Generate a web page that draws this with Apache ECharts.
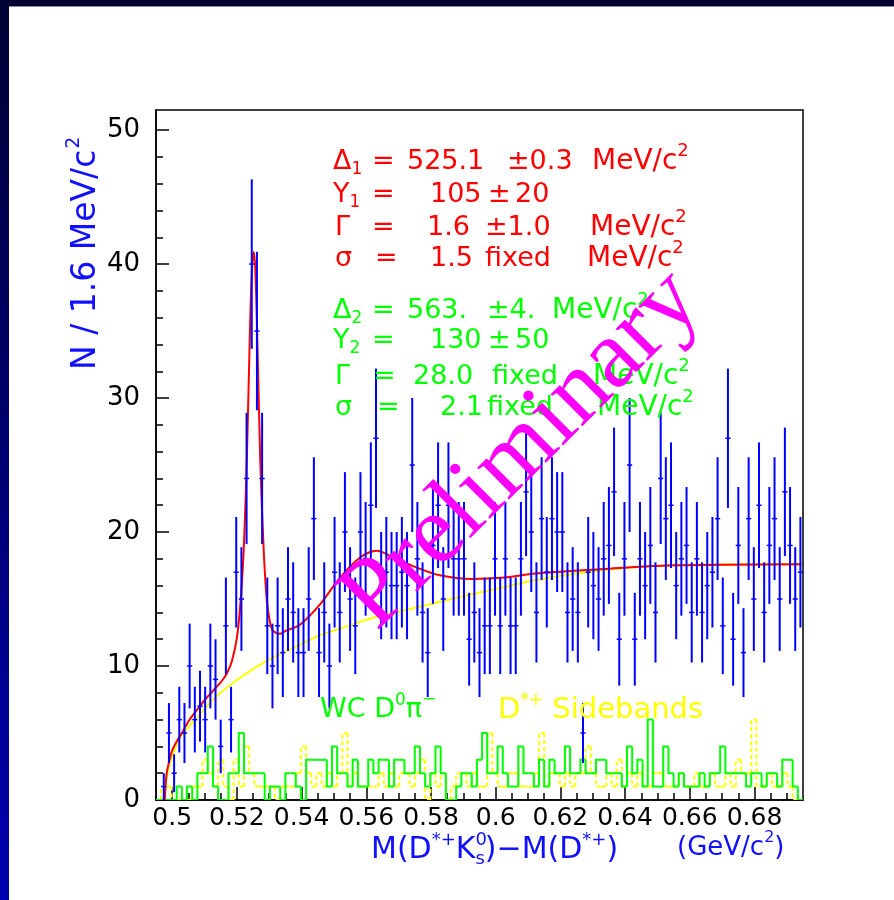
<!DOCTYPE html>
<html><head><meta charset="utf-8">
<script src="https://cdn.jsdelivr.net/npm/echarts@6/dist/echarts.min.js"></script>
<style>html,body{margin:0;padding:0;background:#fff;}#c{width:894px;height:900px;}</style>
</head><body><div id="c"></div>
<script>
// ---- data ----
const binLow = 0.495;
const binWidth = 0.0016;
const xMax = 0.695;
const dataCounts = [0,1,5,2,6,5,10,6,7,6,10,9,4,13,6,17,15,24,40,35,
  24,13,10,13,11,15,14,11,11,15,21,11,14,10,17,14,20,15,13,20,
  18,22,27,16,17,16,16,17,16,25,18,14,11,19,22,15,22,18,18,18,
  12,14,11,13,13,18,13,18,13,13,18,23,20,14,21,17,21,20,20,14,
  15,14,5,17,16,15,18,19,23,12,18,25,12,18,16,19,14,24,21,22,
  16,18,19,14,18,14,16,17,21,13,27,12,19,11,21,15,22,14,19,21,
  15,23,19,15,17];
const wcCounts = [0,0,0,0,1,0,1,0,2,2,4,1,0,0,2,2,5,2,2,2,
  2,0,1,1,0,2,2,1,0,3,3,3,3,1,4,2,2,1,3,1,
  1,3,2,3,3,1,3,3,2,2,4,2,1,2,4,2,0,0,1,2,
  2,1,3,5,2,2,4,2,1,1,4,2,2,1,3,1,3,2,2,4,
  2,2,3,2,2,3,3,2,2,2,1,4,2,3,1,6,1,1,4,2,
  1,2,1,1,1,2,1,2,2,4,2,2,2,2,1,2,2,1,2,2,
  1,3,3,1,0];
const sbCounts = [0,1,1,0,0,0,0,1,1,3,2,1,3,1,0,3,1,4,2,1,
  1,1,1,0,1,1,1,2,4,2,1,2,1,2,1,2,5,1,2,1,
  1,1,1,2,1,2,1,2,2,1,2,3,0,2,1,2,0,1,2,2,
  1,2,1,1,5,2,1,1,2,2,1,1,1,2,5,1,2,2,1,2,
  1,2,2,4,2,1,1,2,1,3,1,2,1,2,1,1,2,2,1,1,
  1,2,1,1,2,1,1,2,1,1,2,1,3,2,2,6,1,1,2,1,
  1,2,1,0,0];
const fitCurve = [[0.4977,0],[0.4982,1.8],[0.4989,2.7],[0.5000,3.7],[0.5010,4.2],[0.5030,5.0],
  [0.5051,5.9],[0.5076,6.7],[0.5102,7.5],[0.5128,8.2],[0.5154,8.9],[0.5170,9.5],[0.5185,10.4],
  [0.5200,12.1],[0.5210,14.4],[0.5221,18.6],[0.5231,25.6],[0.5241,35.6],[0.5247,39.8],
  [0.5252,40.9],[0.5257,39.6],[0.5262,35.6],[0.5272,25.6],[0.5283,18.6],[0.5293,14.8],
  [0.5303,13.2],[0.5313,12.6],[0.5334,12.4],[0.5349,12.6],[0.5396,13.1],[0.5457,14.6],
  [0.5519,16.6],[0.5581,18.1],[0.5632,18.6],[0.5684,18.1],[0.5761,17.3],[0.5823,16.8],
  [0.5926,16.5],[0.6028,16.6],[0.6121,16.9],[0.6311,17.2],[0.6528,17.5],[0.6945,17.6]];
const bkgCurve = [[0.4977,0],[0.4982,1.5],[0.4995,2.9],[0.5026,4.7],[0.5087,6.4],[0.5118,7.3],
  [0.5180,8.6],[0.5272,10.1],[0.5334,10.9],[0.5396,11.6],[0.5457,12.3],[0.5520,12.8],
  [0.5621,13.6],[0.5725,14.2],[0.5880,15.1],[0.6030,15.9],[0.6121,16.4],[0.6311,17.1],
  [0.6528,17.5],[0.6945,17.6]];
const xTickLabels = [0.5,0.52,0.54,0.56,0.58,0.6,0.62,0.64,0.66,0.68];
const xMinorTicks = [0.5,0.505,0.51,0.515,0.52,0.525,0.53,0.535,0.54,0.545,0.55,0.555,0.56,0.565,0.57,0.575,0.58,0.585,0.59,0.595,0.6,0.605,0.61,0.615,0.62,0.625,0.63,0.635,0.64,0.645,0.65,0.655,0.66,0.665,0.67,0.675,0.68,0.685,0.69];
const yTickLabels = [0,10,20,30,40,50];
const yMinorTicks = [0,2,4,6,8,10,12,14,16,18,20,22,24,26,28,30,32,34,36,38,40,42,44,46,48,50];

// ---- chart ----
const chart = echarts.init(document.getElementById('c'), null, {renderer:'canvas'});
const FONT = 'DejaVu Sans';
const centers = dataCounts.map((n,k)=>[binLow+(k+0.5)*binWidth, n]);
const mctx = document.createElement('canvas').getContext('2d');
function W(s,size,fam){ mctx.font = size+'px "'+(fam||FONT)+'"'; return mctx.measureText(s).width; }

function histSeries(counts, color, dash){
  return {
    type:'custom', xAxisIndex:0, yAxisIndex:0, clip:true, z:3,
    data: counts.map((n,k)=>[binLow+(k+0.5)*binWidth, n, k>0?counts[k-1]:0]),
    renderItem(params, api){
      const xc = api.value(0), v = api.value(1), pv = api.value(2);
      const p0 = api.coord([xc-binWidth/2, pv]);
      const p1 = api.coord([xc-binWidth/2, v]);
      const p2 = api.coord([xc+binWidth/2, v]);
      return {type:'polyline', shape:{points:[p0,p1,p2]},
        style:{stroke:color, lineWidth:2, fill:null, lineDash:dash||null}};
    }
  };
}

const texts = [];
function T(x,y,s,size,color,extra){
  texts.push(Object.assign({type:'text', x:x, y:y, z:50,
    style:{text:s, fill:color, font:size+'px "'+FONT+'"', verticalAlign:'middle', align:'left'}}, extra||{}));
}
function seq(x,y,color,parts){
  let cx = x;
  for (const p of parts){
    const [s,size,dy,adv] = p;
    T(cx, y+(dy||0), s, size, color);
    cx += (adv!==undefined) ? adv : W(s,size);
  }
  return cx;
}
function mev(x,y,color){ seq(x,y,color,[['MeV/c',28],['2',18,-11]]); }
function sym(x,y,color,s,sub){ seq(x,y,color,[[s,27],[sub,17,8]]); }
const R='#ff0000', G='#00ff00', Yc='#ffff00';
// red block
sym(333,162,R,'\u0394','1'); T(372,162,'=',27,R); T(407,162,'525.1',27,R); T(507,162,'\u00b10.3',27,R); mev(592,162,R);
sym(333,195,R,'Y','1'); T(372,195,'=',27,R); T(430,195,'105',27,R); T(488,195,'\u00b1',27,R); T(515,195,'20',27,R);
T(335,228,'\u0393',27,R); T(372,228,'=',27,R); T(427,228,'1.6',27,R); T(485,228,'\u00b11.0',27,R); mev(590,228,R);
T(335,259,'\u03c3',27,R); T(375,259,'=',27,R); T(430,259,'1.5',27,R); T(485,259,'fixed',27,R); mev(587,259,R);
// green block
sym(333,311,G,'\u0394','2'); T(372,311,'=',27,G); T(407,311,'563.',27,G); T(487,311,'\u00b14.',27,G); mev(552,311,G);
sym(333,341,G,'Y','2'); T(372,341,'=',27,G); T(430,341,'130',27,G); T(488,341,'\u00b1',27,G); T(515,341,'50',27,G);
T(335,377,'\u0393',27,G); T(373,377,'=',27,G); T(413,377,'28.0',27,G); T(492,377,'fixed',27,G); mev(593,377,G);
T(335,408,'\u03c3',27,G); T(377,408,'=',27,G); T(440,408,'2.1',27,G); T(487,408,'fixed',27,G); mev(597,408,G);
// legend texts
seq(320,710,G,[['WC D',27],['0',17,-9],['\u03c0',27],['\u2212',17,-10]]);
seq(498,710,Yc,[['D',29],['*+',17,-9],[' Sidebands',29]]);
// x title
const B='#1010ff';
seq(371,850,B,[['M(D',30],['*+',18,-10],['K',30],['0',18,-10,0],['s',18,9],[')\u2212M(D',30],['*+',18,-10],[')',30]]);
seq(677,848,B,[['(GeV/c',26],['2',16,-10],[')',26]]);
// y title (rotated, reading bottom to top)
(function(){
  const s='N / 1.6 MeV/c', fs=33, w=W(s,fs), w2=W('2',19);
  const yb=370, xc=86;
  texts.push({type:'text', x:xc, y:yb-w/2, z:50, rotation:Math.PI/2,
    style:{text:s, fill:B, font:fs+'px "'+FONT+'"', align:'center', verticalAlign:'middle'}});
  texts.push({type:'text', x:xc-12, y:yb-w-w2/2-1, z:50, rotation:Math.PI/2,
    style:{text:'2', fill:B, font:'19px "'+FONT+'"', align:'center', verticalAlign:'middle'}});
})();
// Preliminary
texts.push({type:'text', x:522, y:450, z:60, rotation:Math.PI/4,
  style:{text:'Preliminary', fill:'#ff00ff', font:'98px "Liberation Serif"', align:'center', verticalAlign:'middle'}});

const option = {
  backgroundColor:'#ffffff',
  animation:false,
  grid:{left:156, right:91, top:110, bottom:100, show:true, borderColor:'#000', borderWidth:1.5, backgroundColor:'#fff'},
  xAxis:[
    {type:'value', min:binLow, max:xMax, position:'bottom',
     axisLine:{show:true, onZero:false, lineStyle:{color:'#000', width:1.5}},
     axisTick:{show:true, inside:true, length:13, customValues:xTickLabels, lineStyle:{color:'#000', width:1.5}},
     axisLabel:{show:true, customValues:xTickLabels, margin:6, color:'#000', fontFamily:FONT, fontSize:25,
       formatter:v=>String(+v.toFixed(2))},
     splitLine:{show:false}},
    {type:'value', min:binLow, max:xMax, position:'bottom', gridIndex:0,
     axisLine:{show:false},
     axisTick:{show:true, inside:true, length:7, customValues:xMinorTicks, lineStyle:{color:'#000', width:1.5}},
     axisLabel:{show:false}, splitLine:{show:false}}
  ],
  yAxis:[
    {type:'value', min:0, max:51.5, position:'left',
     axisLine:{show:true, onZero:false, lineStyle:{color:'#000', width:1.5}},
     axisTick:{show:true, inside:true, length:13, customValues:yTickLabels, lineStyle:{color:'#000', width:1.5}},
     axisLabel:{show:true, customValues:yTickLabels, margin:16, color:'#000', fontFamily:FONT, fontSize:26},
     splitLine:{show:false}},
    {type:'value', min:0, max:51.5, position:'left',
     axisLine:{show:false},
     axisTick:{show:true, inside:true, length:7, customValues:yMinorTicks, lineStyle:{color:'#000', width:1.5}},
     axisLabel:{show:false}, splitLine:{show:false}}
  ],
  graphic:[
    {type:'rect', z:-10, shape:{x:0,y:0,width:894,height:6}, style:{fill:'#000033'}},
    {type:'rect', z:-10, shape:{x:0,y:0,width:9,height:900},
      style:{fill:new echarts.graphic.LinearGradient(0,0,0,1,[{offset:0,color:'#000033'},{offset:1,color:'#0000b0'}])}},
    {type:'rect', z:-10, shape:{x:9,y:6,width:885,height:1}, style:{fill:'#8888aa'}},
    ...texts
  ],
  series:[
    histSeries(sbCounts, '#ffff00', [4,3]),
    histSeries(wcCounts, '#00ff00'),
    {type:'line', data:bkgCurve, smooth:0.3, symbol:'none', z:4, lineStyle:{color:'#ffff00', width:2}},
    {type:'line', data:fitCurve, smooth:0.3, symbol:'none', z:5, lineStyle:{color:'#ff0000', width:2}},
    {type:'custom', z:6, clip:true, data:centers,
     renderItem(params, api){
       const xc = api.value(0), n = api.value(1);
       if (!(n>0)) return null;
       const e = Math.sqrt(n);
       const t = api.coord([xc, n+e]), b = api.coord([xc, n-e]);
       const l = api.coord([xc-binWidth/2, n]), r = api.coord([xc+binWidth/2, n]);
       return {type:'group', children:[
         {type:'line', shape:{x1:t[0],y1:t[1],x2:b[0],y2:b[1]}, style:{stroke:'#0000ff', lineWidth:2}},
         {type:'line', shape:{x1:l[0],y1:l[1],x2:r[0],y2:r[1]}, style:{stroke:'#0000ff', lineWidth:1.5}}
       ]};
     }}
  ]
};
chart.setOption(option);
</script></body></html>
